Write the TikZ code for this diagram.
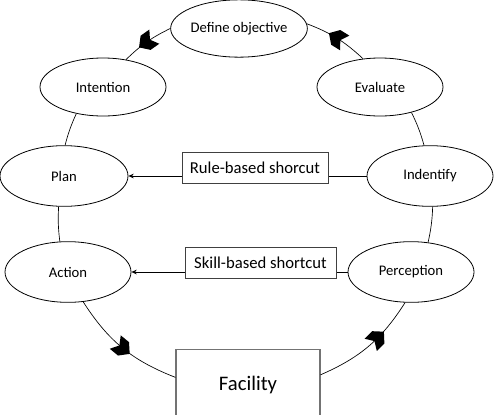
\documentclass[tikz,border=0pt]{standalone}
\usepackage{fontspec}
\setmainfont{Carlito}
\usepackage{tikz}
\usetikzlibrary{arrows.meta,shapes.geometric,decorations.markings}

\begin{document}
\begin{tikzpicture}[
    x=0.75pt, y=-0.75pt,
    phase/.style={draw, ellipse, line width=0.6pt, inner sep=0pt, minimum width=94.5pt,
                  minimum height=45.5pt, font=\fontsize{11}{13}\selectfont},
    shortcut/.style={draw=black!75, fill=white, inner sep=0pt, minimum height=23pt,
                  font=\fontsize{12.5}{15}\selectfont},
    plant/.style={draw=black!55, line width=0.8pt, inner sep=0pt, minimum width=108pt,
                  minimum height=53pt, font=\fontsize{15.5}{18}\selectfont},
    link/.style={line width=0.5pt},
    flow/.style={link, postaction=decorate, decoration={markings, mark=at position #1 with
                  {\fill (7pt,0pt) -- (1pt,6.5pt) -- (-7pt,6.5pt) -- (-3pt,0pt)
                   -- (-7pt,-6.5pt) -- (1pt,-6.5pt) -- cycle;}}},
    flow/.default=0.5,
    arr/.style={-{Stealth[length=4pt,width=3.5pt]}, line width=0.5pt}]
  \useasboundingbox (0,0) rectangle (495,414);
  \node[phase, minimum height=43pt] (define) at (239,28.5) {Define objective};
  \node[phase, minimum height=43.5pt] (intention) at (103,87) {Intention};
  \node[phase, minimum height=43.5pt] (evaluate) at (380,87) {Evaluate};
  \node[phase, minimum width=96pt] (plan) at (64,176) {Plan};
  \node[phase] (identify) at (430,176) {Indentify};
  \node[phase] (action) at (68,272) {Action};
  \node[phase] (perception) at (411,272) {Perception};
  \node[plant] (facility) at (248,385) {Facility};
  \draw[flow] (evaluate.121) to[bend right=11] (define.4);
  \draw[flow] (define.west) to[bend right=9] (intention.50);
  \draw[link] (intention.225) to[bend right=5] (plan.88);
  \draw[link] (plan.260) to[bend right=5] (action.105);
  \draw[flow] (action.297) to[bend right=18] (facility.174);
  \draw[flow=0.6] (facility.8) to[bend right=17] (perception.259);
  \draw[link] (perception.60) to[bend right=5] (identify.275);
  \draw[link] (identify.101) to[bend right=5] (evaluate.321);
  \draw[arr] (identify.west) -- (plan.east);
  \draw[arr] (perception.west) -- (action.east);
  \node[shortcut, minimum width=109.5pt] (rule) at (255,167.5) {Rule-based shorcut};
  \node[shortcut, minimum width=113pt] (skill) at (260.5,262.5) {Skill-based shortcut};
\end{tikzpicture}
\end{document}
